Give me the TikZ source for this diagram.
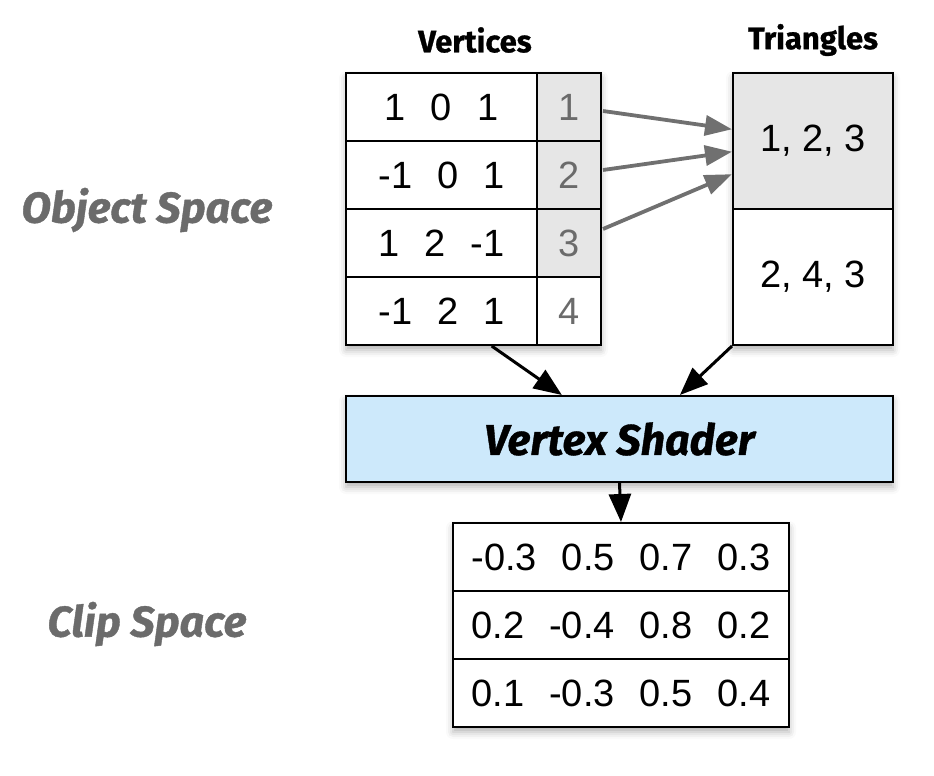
\documentclass[tikz,border=0pt]{standalone}
\usepackage{fontspec}
\setmainfont{Liberation Sans}
\newfontfamily\fira{Fira Sans}[BoldFeatures={FakeBold=0.9},BoldItalicFeatures={FakeBold=0.9}]
\usetikzlibrary{arrows.meta,shadows.blur,calc}
\definecolor{txtgray}{HTML}{6B6B6B}
\definecolor{cellgray}{HTML}{E6E6E6}
\definecolor{shaderblue}{HTML}{CDE9FB}
\definecolor{arrgray}{HTML}{707070}
\newcommand{\gp}{\hspace{25pt}}
\begin{document}
\begin{tikzpicture}[x=1pt,y=-1pt,
  cell/.style={draw=black,line width=2pt,inner sep=0pt,font=\fontsize{38}{38}\selectfont},
  valcell/.style={cell,minimum width=191pt,minimum height=68pt},
  idxcell/.style={cell,minimum width=64pt,minimum height=68pt,text=txtgray},
  tricell/.style={cell,minimum width=160pt,minimum height=136pt},
  clipcell/.style={cell,minimum width=336pt,minimum height=68pt},
  hdr/.style={font=\fira\bfseries\fontsize{31}{31}\selectfont},
  spacelbl/.style={font=\fira\bfseries\itshape\fontsize{43}{43}\selectfont,text=txtgray},
  shad/.style={fill=white,blur shadow={shadow xshift=0pt,shadow yshift=-5pt,shadow blur radius=7pt,shadow opacity=30}},
  grayarrow/.style={draw=arrgray,line width=3.8pt,-{Triangle[length=27pt,width=20pt]},shorten >=-2pt},
  blackarrow/.style={draw=black,line width=3pt,-{Triangle[length=28pt,width=22pt]}}
]
\useasboundingbox (0,0) rectangle (934,776);
% shadows
\path[shad] (346,73) rectangle (601,345);
\path[shad] (733,73) rectangle (893,345);
\path[shad] (453,523) rectangle (789,727);
% vertices table
\node[valcell] (v1a) at (441.5,107) {1\gp 0\gp 1};
\node[valcell] (v2a) at (441.5,175) {-1\gp 0\gp 1};
\node[valcell] (v3a) at (441.5,243) {1\gp 2\gp -1};
\node[valcell] (v4a) at (441.5,311) {-1\gp 2\gp 1};
\node[idxcell,fill=cellgray] (v1b) at (569,107) {1};
\node[idxcell,fill=cellgray] (v2b) at (569,175) {2};
\node[idxcell,fill=cellgray] (v3b) at (569,243) {3};
\node[idxcell,fill=white] (v4b) at (569,311) {4};
% triangles table
\node[tricell,fill=cellgray] (t1) at (813,141) {1, 2, 3};
\node[tricell,fill=white] (t2) at (813,277) {2, 4, 3};
% headers
\node[hdr] (hv) at (475,40) {Vertices};
\node[hdr] (ht) at (813,40) {Triangles};
% space labels
\node[spacelbl] (os) at (147,210) {Object Space};
\node[spacelbl] (cs) at (147,624) {Clip Space};
% vertex shader
\node[draw=black,line width=2pt,fill=shaderblue,minimum width=547pt,minimum height=86pt,
  font=\fira\bfseries\itshape\fontsize{43}{43}\selectfont,
  blur shadow={shadow xshift=0pt,shadow yshift=-5pt,shadow blur radius=7pt,shadow opacity=30}] (vs) at (619.5,439) {Vertex Shader};
% clip table
\node[clipcell] (c1) at (621,557) {-0.3\gp 0.5\gp 0.7\gp 0.3};
\node[clipcell] (c2) at (621,625) {0.2\gp -0.4\gp 0.8\gp 0.2};
\node[clipcell] (c3) at (621,693) {0.1\gp -0.3\gp 0.5\gp 0.4};
% gray arrows
\draw[grayarrow] ($(v1b.east)+(1,4)$) -- ($(t1.west)+(-2,-12)$);
\draw[grayarrow] ($(v2b.east)+(1,-5)$) -- ($(t1.west)+(-2,11)$);
\draw[grayarrow] ($(v3b.east)+(1,-14)$) -- ($(t1.west)+(-2,34)$);
% black arrows
\coordinate (a1s) at ($(v4a.south west)!0.76!(v4a.south east)$);
\coordinate (a1e) at ($(vs.north west)!0.395!(vs.north east)$);
\coordinate (a2e) at ($(vs.north west)!0.61!(vs.north east)$);
\draw[blackarrow] (a1s) -- (a1e);
\draw[blackarrow] (t2.south west) -- (a2e);
\draw[blackarrow] (vs.south) -- (c1.north);
\end{tikzpicture}
\end{document}
